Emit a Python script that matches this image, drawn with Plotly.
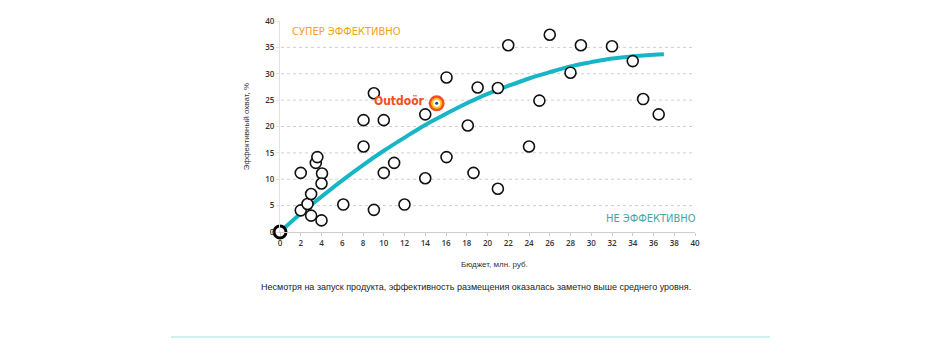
import plotly.graph_objects as go

# ---- data ----
budget = [2, 2, 2.65, 3, 3, 3.45, 3.6, 4.05, 4.0, 4.0, 6.1, 8.05, 8.05, 9.05, 9.05,
          10.0, 10.0, 11.0, 12.0, 14.0, 14.0, 16.05, 16.05, 18.1, 18.65, 19.05,
          21.0, 21.0, 22.0, 24.0, 25.0, 26.0, 28.0, 29.0, 32.0, 34.0, 35.0, 36.5]
reach = [11.2, 4.1, 5.3, 7.2, 3.1, 13.1, 14.2, 11.1, 9.2, 2.2, 5.2, 21.2, 16.2, 26.3, 4.2,
         21.2, 11.2, 13.1, 5.2, 22.3, 10.2, 29.3, 14.2, 20.2, 11.2, 27.4,
         27.3, 8.2, 35.4, 16.2, 24.9, 37.4, 30.2, 35.4, 35.2, 32.4, 25.2, 22.3]
origin_x = [0]
origin_y = [0]
outdoor_x = [15.1]
outdoor_y = [24.4]
trend_x = [0, 2, 4, 6, 8, 10, 12, 14, 16, 18, 20, 22, 24, 26, 28, 30, 32, 34, 36, 37]
trend_y = [0, 3.5, 6.7, 9.8, 12.7, 15.4, 17.9, 20.3, 22.4, 24.4, 26.2, 27.7, 29.1,
           30.3, 31.4, 32.2, 32.9, 33.3, 33.6, 33.7]
x_ticks = list(range(0, 41, 2))
y_ticks = list(range(0, 41, 5))
grid_y = [5, 10, 15, 20, 25, 30, 35]

fig = go.Figure()

for gy in grid_y:
    fig.add_shape(type="line", xref="x", yref="y", x0=0.1, x1=40, y0=gy, y1=gy,
                  line=dict(color="#cfcfcf", width=1, dash="dot"), layer="below")

fig.add_trace(go.Scatter(x=trend_x, y=trend_y, mode="lines",
                         line=dict(color="#17b6c6", width=4, shape="spline"),
                         hoverinfo="skip", cliponaxis=False))
fig.add_trace(go.Scatter(x=budget, y=reach, mode="markers",
                         marker=dict(size=11, color="white",
                                     line=dict(color="#111111", width=1.6)),
                         cliponaxis=False))
fig.add_trace(go.Scatter(x=origin_x, y=origin_y, mode="markers",
                         marker=dict(size=12, color="white",
                                     line=dict(color="#000000", width=3)),
                         cliponaxis=False))
for sz, col in [(16, "#f0501e"), (11, "#ffc21a"), (7, "white"), (3, "#1a3c9c")]:
    fig.add_trace(go.Scatter(x=outdoor_x, y=outdoor_y, mode="markers",
                             marker=dict(size=sz, color=col, line=dict(width=0)),
                             cliponaxis=False))

narrow = "DejaVu Sans Condensed"
fig.add_annotation(x=1.0, y=38.0, xref="x", yref="y", text="СУПЕР ЭФФЕКТИВНО",
                   showarrow=False, xanchor="left", yanchor="middle",
                   font=dict(family=narrow, size=11, color="#f5a315"))
fig.add_annotation(x=40, y=2.6, xref="x", yref="y", text="НЕ ЭФФЕКТИВНО",
                   showarrow=False, xanchor="right", yanchor="middle", xshift=3,
                   font=dict(family=narrow, size=11, color="#45a7a5"))
fig.add_annotation(x=outdoor_x[0], y=outdoor_y[0], xref="x", yref="y", text="<b>Outdoör</b>",
                   showarrow=False, xanchor="right", yanchor="middle", xshift=-10, yshift=2,
                   font=dict(family=narrow, size=12, color="#f0501e"))

fig.add_annotation(x=0.5157, y=-0.152, xref="paper", yref="paper", text="Бюджет, млн. руб.",
                   showarrow=False, xanchor="center", yanchor="middle",
                   font=dict(family="Liberation Sans, Arial, sans-serif", size=8, color="#333333"))
fig.add_annotation(x=-0.08, y=0.5, xref="paper", yref="paper", text="Эффективный охват, %",
                   showarrow=False, xanchor="center", yanchor="middle", textangle=-90,
                   font=dict(family="Liberation Sans, Arial, sans-serif", size=8, color="#333333"))
fig.add_annotation(x=0.472, y=-0.263, xref="paper", yref="paper",
                   text="Несмотря на запуск продукта, эффективность размещения оказалась заметно выше среднего уровня.",
                   showarrow=False, xanchor="center", yanchor="middle",
                   font=dict(family="Liberation Sans, Arial, sans-serif", size=9, color="#222222"))

fig.add_shape(type="line", xref="paper", yref="paper", x0=-0.2627, x1=1.1807, y0=-0.4977, y1=-0.4977,
              line=dict(color="#cdeef2", width=2))

tickfont = dict(family="Open Sans, sans-serif", size=8, color="#333333", weight=600)
fig.update_xaxes(range=[0, 40], tickvals=x_ticks, ticktext=[str(v) for v in x_ticks],
                 showgrid=False, zeroline=False, showline=True, linecolor="#cccccc", linewidth=1,
                 ticks="outside", ticklen=3, tickcolor="#cccccc", tickfont=tickfont)
fig.update_yaxes(range=[0, 40], tickvals=y_ticks, ticktext=[str(v) for v in y_ticks],
                 showgrid=False, zeroline=False, showline=True, linecolor="#e2e2e2", linewidth=1,
                 ticks="outside", ticklen=3, tickcolor="#e2e2e2", tickfont=tickfont)

fig.update_layout(width=950, height=357, showlegend=False,
                  margin=dict(l=272, r=263, t=7, b=133),
                  paper_bgcolor="white", plot_bgcolor="white")

fig.write_html("out.html")
